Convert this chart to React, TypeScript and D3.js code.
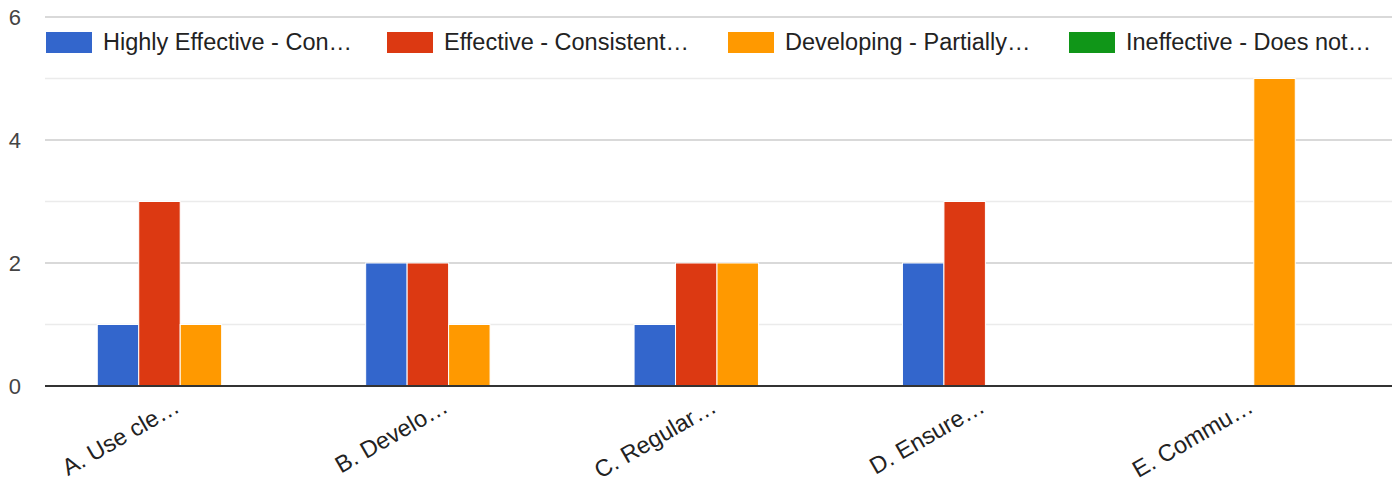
import React, { useRef, useEffect } from 'react';
import * as d3 from 'd3';

// categories as they show on the axis (already cut short in the source)
const categories = ['A. Use cle…', 'B. Develo…', 'C. Regular…', 'D. Ensure…', 'E. Commu…'];

const seriesNames = [
  'Highly Effective - Con…',
  'Effective - Consistent…',
  'Developing - Partially…',
  'Ineffective - Does not…',
];
const seriesColors = ['#3366cc', '#dc3912', '#ff9900', '#109618'];

// one array per series, same order as categories
const highlyEffective = [1, 2, 1, 2, 0];
const effective = [3, 2, 2, 3, 0];
const developing = [1, 1, 2, 0, 5];
const ineffective = [0, 0, 0, 0, 0];

const yTicks = [0, 2, 4, 6];
const yMinorTicks = [1, 3, 5];

const W = 1392, H = 480;
const margin = { top: 17, right: 4, bottom: 94, left: 46 };

const App = () => {
  const ref = useRef<SVGSVGElement | null>(null);

  useEffect(() => {
    const svg = d3.select(ref.current);
    svg.selectAll('*').remove();

    const series = [highlyEffective, effective, developing, ineffective];
    const rows = categories.map((c, i) => ({ cat: c, vals: series.map(s => s[i]) }));

    const x0 = d3.scaleBand()
      .domain(categories)
      .range([margin.left, W - margin.right])
      .paddingInner(0.382)
      .paddingOuter(0.191);
    const x1 = d3.scaleBand()
      .domain(d3.range(seriesNames.length).map(String))
      .range([0, x0.bandwidth()]);
    const y = d3.scaleLinear().domain([0, 6]).range([H - margin.bottom, margin.top]);

    const font = 'Arial, "Liberation Sans", sans-serif';

    // minor gridlines
    svg.append('g').selectAll('line')
      .data(yMinorTicks).enter().append('line')
      .attr('x1', margin.left - 1).attr('x2', W)
      .attr('y1', d => y(d)).attr('y2', d => y(d))
      .attr('stroke', '#ebebeb').attr('stroke-width', 1.5);

    // major gridlines
    svg.append('g').selectAll('line')
      .data(yTicks.filter(d => d !== 0)).enter().append('line')
      .attr('x1', margin.left - 1).attr('x2', W)
      .attr('y1', d => y(d)).attr('y2', d => y(d))
      .attr('stroke', '#cccccc').attr('stroke-width', 1.5);

    // y labels
    svg.append('g').selectAll('text')
      .data(yTicks).enter().append('text')
      .attr('x', 21).attr('y', d => y(d))
      .attr('dy', '0.35em')
      .attr('text-anchor', 'end')
      .attr('font-family', font).attr('font-size', 22)
      .attr('fill', '#444')
      .text(d => d);

    // bars
    const groups = svg.append('g').selectAll('g')
      .data(rows).enter().append('g')
      .attr('transform', d => 'translate(' + x0(d.cat) + ',0)');

    groups.selectAll('rect')
      .data(d => d.vals.map((v, i) => ({ v, i })).filter(e => e.v > 0))
      .enter().append('rect')
      .attr('x', d => x1(String(d.i))!)
      .attr('width', x1.bandwidth())
      .attr('y', d => y(d.v))
      .attr('height', d => y(0) - y(d.v))
      .attr('fill', d => seriesColors[d.i])
      .attr('stroke', '#ffffff').attr('stroke-width', 1);

    // baseline
    svg.append('line')
      .attr('x1', margin.left - 1).attr('x2', W)
      .attr('y1', y(0)).attr('y2', y(0))
      .attr('stroke', '#333').attr('stroke-width', 2);

    // x labels, rotated
    svg.append('g').selectAll('text')
      .data(categories).enter().append('text')
      .attr('transform', d => 'translate(' + (x0(d)! + x0.bandwidth() / 2 + 1) + ',' + (y(0) + 25) + ') rotate(-30)')
      .attr('text-anchor', 'end')
      .attr('font-family', font).attr('font-size', 23.5)
      .attr('fill', '#222')
      .text(d => d);

    // legend
    const lx = d3.scaleBand()
      .domain(seriesNames)
      .range([margin.left, margin.left + 341 * seriesNames.length]);
    const leg = svg.append('g').selectAll('g')
      .data(seriesNames).enter().append('g')
      .attr('transform', d => 'translate(' + lx(d) + ',32)');
    leg.append('rect')
      .attr('width', 46).attr('height', 21)
      .attr('fill', (d, i) => seriesColors[i]);
    leg.append('text')
      .attr('x', 57).attr('y', 17.5)
      .attr('font-family', font).attr('font-size', 23.5)
      .attr('fill', '#222')
      .text(d => d);
  }, []);

  return (
    <svg ref={ref} width={W} height={H}
      style={{ position: 'absolute', left: 0, top: 0, background: '#fff' }} />
  );
};

export default App;
